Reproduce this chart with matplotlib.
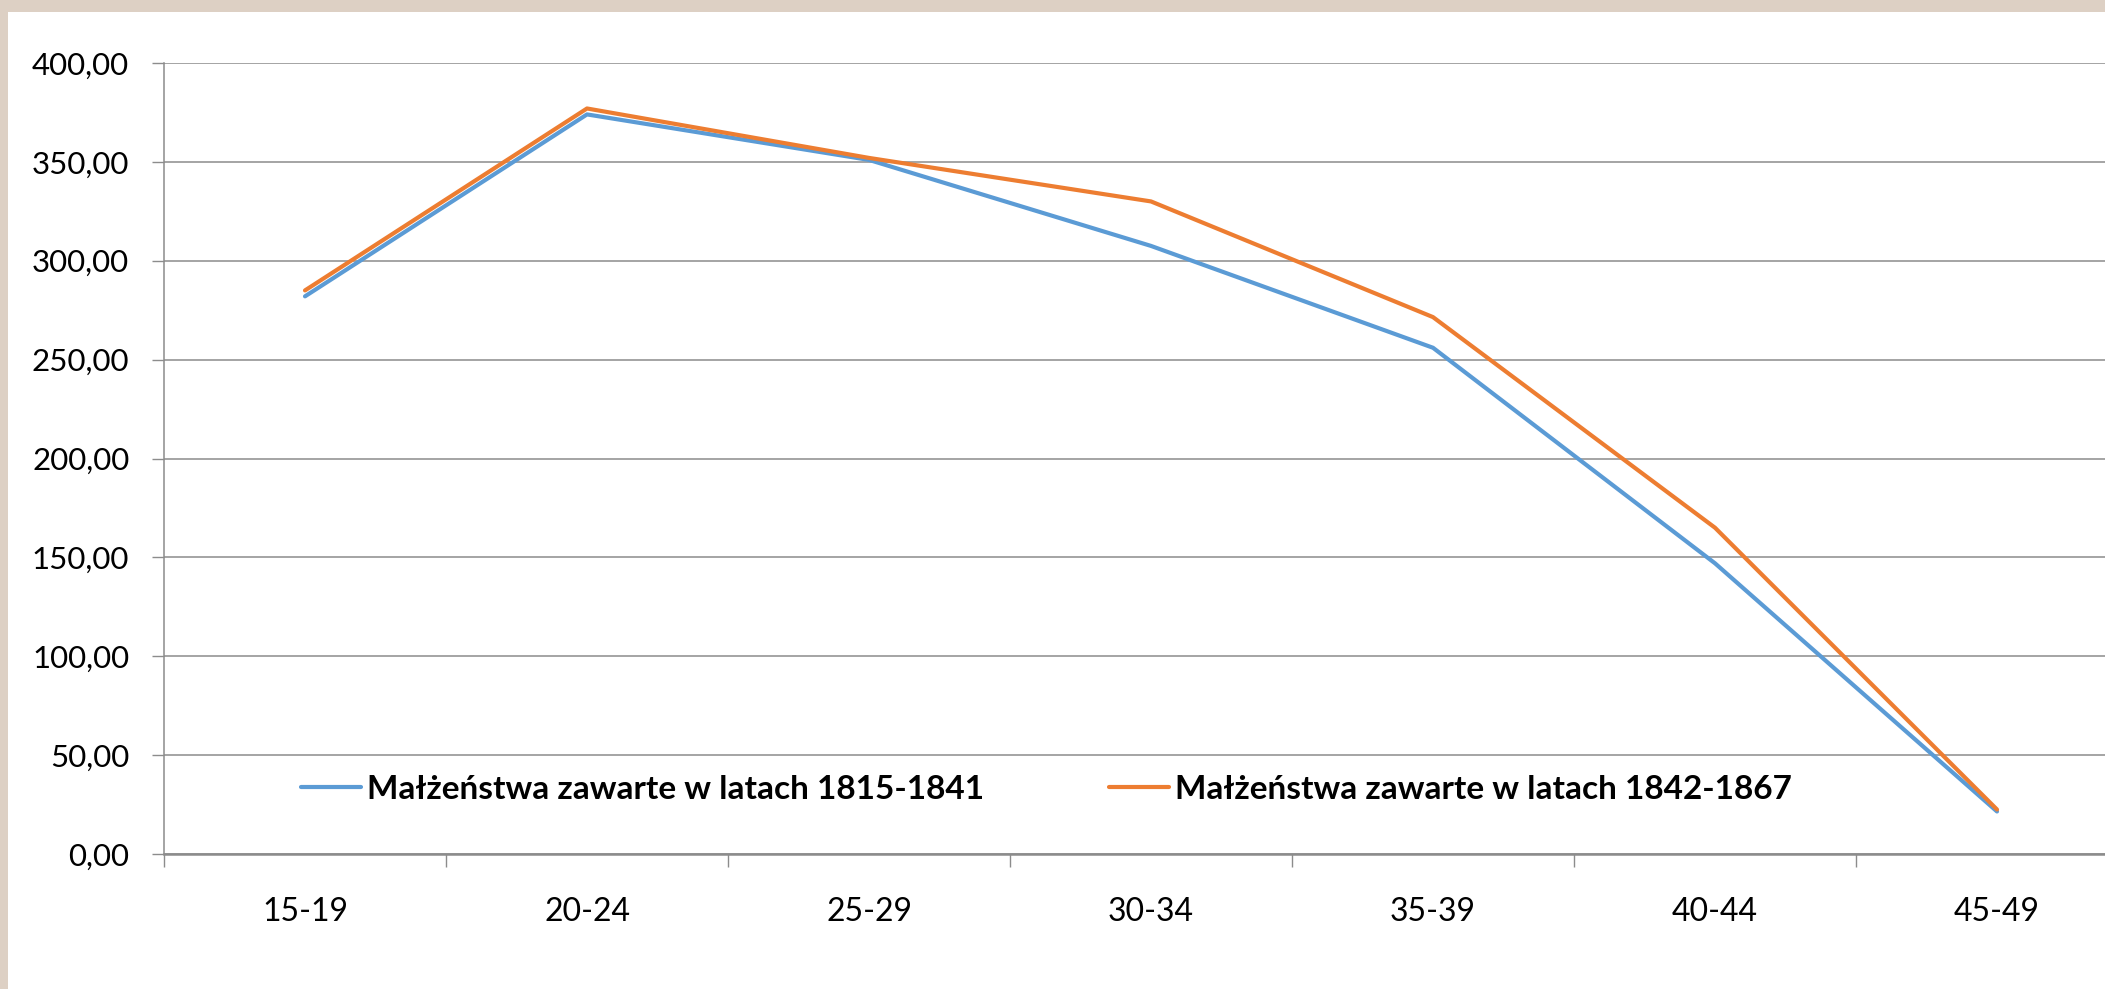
import matplotlib.pyplot as plt
from matplotlib.patches import Rectangle

# age groups and marital fertility values
age_groups = ["15-19", "20-24", "25-29", "30-34", "35-39", "40-44", "45-49"]
vals_1815_1841 = [282.0, 374.0, 351.0, 307.5, 256.0, 147.0, 21.5]
vals_1842_1867 = [285.0, 377.0, 352.0, 330.0, 271.5, 165.0, 22.5]
label_a = "Małżeństwa zawarte w latach 1815-1841"
label_b = "Małżeństwa zawarte w latach 1842-1867"
y_ticks = [0, 50, 100, 150, 200, 250, 300, 350, 400]

W, H = 2105, 989
fig = plt.figure(figsize=(W / 100, H / 100), dpi=100)
fig.patch.set_facecolor("#ddd0c4")

# white chart panel
fig.patches.append(Rectangle((8 / W, 0), 1, 1 - 12 / H, transform=fig.transFigure,
                             facecolor="white", edgecolor="none", zorder=-10))

left, right = 164 / W, 2138 / W
bottom, top = 1 - 854 / H, 1 - 63 / H
ax = fig.add_axes([left, bottom, right - left, top - bottom])
ax.set_facecolor("none")

x = list(range(len(age_groups)))
ax.plot(x, vals_1815_1841, color="#5b9bd5", lw=3, label=label_a, solid_capstyle="round", zorder=3)
ax.plot(x, vals_1842_1867, color="#ed7d31", lw=3, label=label_b, solid_capstyle="round", zorder=3)

ax.set_xlim(-0.5, len(age_groups) - 0.5)
ax.set_ylim(0, 400)

grid_c = "#8c8c8c"
ax.set_yticks(y_ticks)
ax.set_yticklabels([f"{v:.2f}".replace(".", ",") for v in y_ticks],
                   fontname="Lato", fontsize=22.5)
ax.yaxis.grid(True, color=grid_c, lw=1.1)
ax.set_axisbelow(True)

ax.set_xticks([i - 0.5 for i in range(len(age_groups))])
ax.set_xticklabels([])
ax.set_xticks(x, minor=True)
ax.set_xticklabels(age_groups, minor=True, fontname="Lato", fontsize=23)
ax.tick_params(axis="x", which="major", length=9, width=1, color=grid_c, direction="out")
ax.tick_params(axis="x", which="minor", length=0, pad=31)
ax.tick_params(axis="y", length=9, width=1, color=grid_c, pad=16)

for s in ["top", "right"]:
    ax.spines[s].set_visible(False)
ax.spines["left"].set_color(grid_c)
ax.spines["left"].set_linewidth(1.1)
ax.spines["bottom"].set_color(grid_c)
ax.spines["bottom"].set_linewidth(1.8)

leg = ax.legend(loc="center left", bbox_to_anchor=(0.0694, 0.082), ncol=2, frameon=False,
                prop={"family": "Lato", "weight": "bold", "size": 24},
                borderpad=0, borderaxespad=0,
                handlelength=1.8, handletextpad=0.18, columnspacing=3.75)

fig.savefig("out.png", dpi=100)
